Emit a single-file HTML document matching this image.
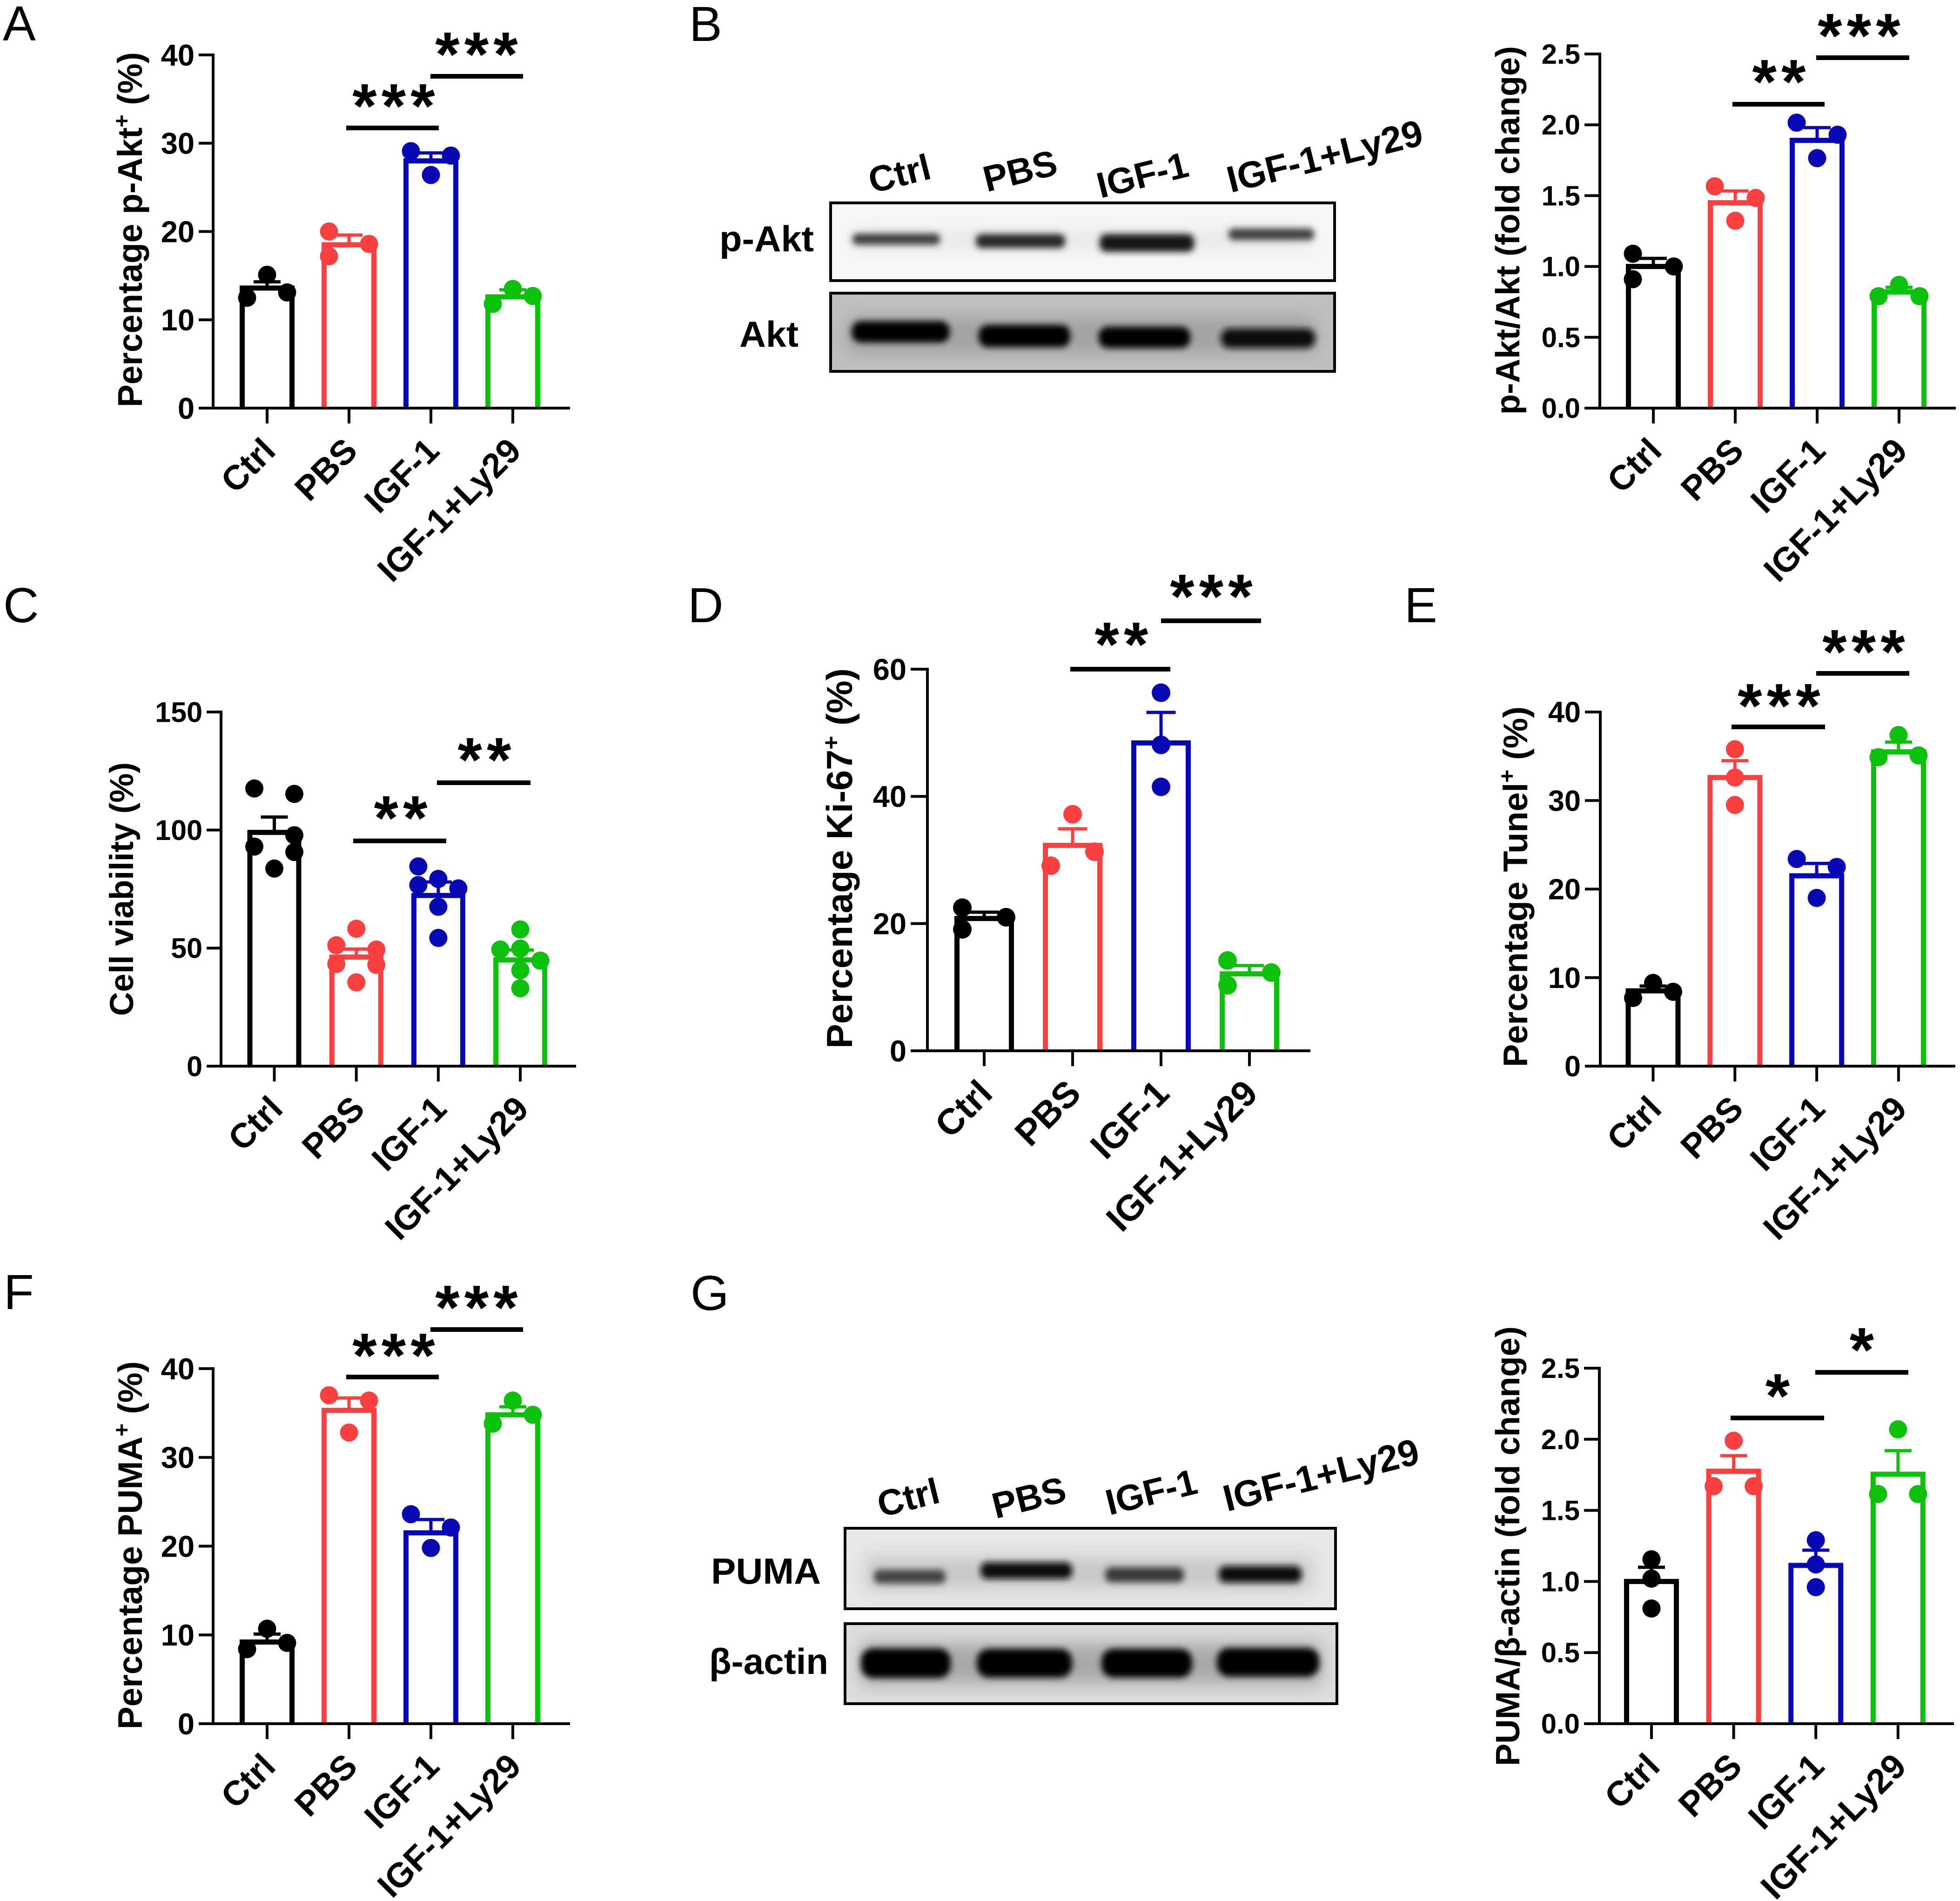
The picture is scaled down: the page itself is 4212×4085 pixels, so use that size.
<!DOCTYPE html>
<html lang="en">
<head>
<meta charset="utf-8">
<title>IGF-1 and p-Akt multi-panel figure</title>
<style>
html,body{margin:0;padding:0;background:#fff;}
svg{display:block;}
text{font-family:"Liberation Sans","DejaVu Sans",sans-serif;fill:#000;}
.letter{font-size:106px;font-weight:400;}
.title{font-size:73px;font-weight:700;}
.sig{font-size:135px;font-weight:700;text-anchor:middle;letter-spacing:10px;}
.blot-label{font-size:78px;font-weight:700;}
.lane{font-size:78px;font-weight:700;text-anchor:middle;}
.sigbar{stroke:#000;stroke-width:10;}
.box{fill:none;stroke:#000;stroke-width:6;}
</style>
</head>
<body>
<svg id="figure" xmlns="http://www.w3.org/2000/svg" width="4212" height="4085" viewBox="0 0 4212 4085">
<defs>
<filter id="blur-band" x="-30%" y="-150%" width="160%" height="400%"><feGaussianBlur stdDeviation="7"></feGaussianBlur></filter>
<filter id="blur-soft" x="-30%" y="-100%" width="160%" height="300%"><feGaussianBlur stdDeviation="20"></feGaussianBlur></filter>
<clipPath id="clip-b1"><rect x="1785" y="436" width="1083" height="167"></rect></clipPath>
<clipPath id="clip-b2"><rect x="1785" y="630" width="1083" height="168"></rect></clipPath>
<clipPath id="clip-g1"><rect x="1816" y="3284" width="1054" height="173"></rect></clipPath>
<clipPath id="clip-g2"><rect x="1816" y="3489" width="1057" height="172"></rect></clipPath>
</defs>
<rect width="4212" height="4085" fill="#fff"></rect>

<text class="letter" x="6" y="87">A</text>
<text class="letter" x="1481" y="88">B</text>
<text class="letter" x="7" y="1337">C</text>
<text class="letter" x="1478" y="1337">D</text>
<text class="letter" x="3018" y="1337">E</text>
<text class="letter" x="8" y="2813">F</text>
<text class="letter" x="1484" y="2815">G</text>

<!-- Axis titles -->
<text class="title" transform="translate(305 875) rotate(-90)" font-size="74" style="font-size:74px" textLength="763" lengthAdjust="spacingAndGlyphs">Percentage p-Akt<tspan font-size="48" style="font-size:48px" dy="-27">+</tspan><tspan dy="27" xml:space="preserve"> (%)</tspan></text>
<text class="title" transform="translate(3265 891) rotate(-90)" style="font-size:72px" textLength="792" lengthAdjust="spacingAndGlyphs">p-Akt/Akt (fold change)</text>
<text class="title" transform="translate(286 2183) rotate(-90)" style="font-size:71px" textLength="545" lengthAdjust="spacingAndGlyphs">Cell viability (%)</text>
<text class="title" transform="translate(1831 2253) rotate(-90)" style="font-size:78px" textLength="817" lengthAdjust="spacingAndGlyphs">Percentage Ki-67<tspan style="font-size:50px" dy="-28">+</tspan><tspan dy="28" xml:space="preserve"> (%)</tspan></text>
<text class="title" transform="translate(3282 2293) rotate(-90)" style="font-size:73px" textLength="775" lengthAdjust="spacingAndGlyphs">Percentage Tunel<tspan style="font-size:48px" dy="-27">+</tspan><tspan dy="27" xml:space="preserve"> (%)</tspan></text>
<text class="title" transform="translate(305 3716) rotate(-90)" style="font-size:73px" textLength="791" lengthAdjust="spacingAndGlyphs">Percentage PUMA<tspan style="font-size:48px" dy="-27">+</tspan><tspan dy="27" xml:space="preserve"> (%)</tspan></text>
<text class="title" transform="translate(3265 3795) rotate(-90)" style="font-size:72px" textLength="945" lengthAdjust="spacingAndGlyphs">PUMA/β-actin (fold change)</text>

<!-- Western blot B -->
<g>
  <text class="lane" transform="translate(1933 373) rotate(-14)" dy="27">Ctrl</text>
  <text class="lane" transform="translate(2192 367) rotate(-14)" dy="27">PBS</text>
  <text class="lane" transform="translate(2455 376) rotate(-14)" dy="27">IGF-1</text>
  <text class="lane" transform="translate(2847 336) rotate(-14)" dy="27" style="font-size:80px">IGF-1+Ly29</text>
  <text class="blot-label" x="1546" y="540" textLength="203" lengthAdjust="spacingAndGlyphs">p-Akt</text>
  <text class="blot-label" x="1589" y="745" textLength="127" lengthAdjust="spacingAndGlyphs">Akt</text>
  <g clip-path="url(#clip-b1)">
    <rect x="1785" y="436" width="1083" height="167" fill="#f8f8f8"></rect>
    <rect x="1830" y="490" width="990" height="50" fill="#e8e8e8" filter="url(#blur-soft)"></rect>
    <rect x="1832" y="502" width="188" height="24" rx="10" fill="#3c3c3c" filter="url(#blur-band)"></rect>
    <rect x="2097" y="503" width="192" height="30" rx="12" fill="#262626" filter="url(#blur-band)"></rect>
    <rect x="2363" y="503" width="203" height="38" rx="14" fill="#141414" filter="url(#blur-band)"></rect>
    <rect x="2640" y="491" width="184" height="25" rx="10" fill="#404040" filter="url(#blur-band)"></rect>
  </g>
  <rect class="box" x="1785" y="436" width="1083" height="167"></rect>
  <g clip-path="url(#clip-b2)">
    <rect x="1785" y="630" width="1083" height="168" fill="#c0c0c0"></rect>
    <rect x="1820" y="682" width="1010" height="76" fill="#a2a2a2" filter="url(#blur-soft)"></rect>
    <rect x="1830" y="690" width="211" height="46" rx="20" fill="#000" filter="url(#blur-band)"></rect>
    <rect x="2103" y="698" width="197" height="48" rx="20" fill="#000" filter="url(#blur-band)"></rect>
    <rect x="2361" y="702" width="197" height="46" rx="20" fill="#000" filter="url(#blur-band)"></rect>
    <rect x="2624" y="706" width="202" height="42" rx="18" fill="#080808" filter="url(#blur-band)"></rect>
  </g>
  <rect class="box" x="1785" y="630" width="1083" height="168"></rect>
</g>

<!-- Western blot G -->
<g>
  <text class="lane" transform="translate(1952 3218) rotate(-14)" dy="27">Ctrl</text>
  <text class="lane" transform="translate(2211 3218) rotate(-14)" dy="27">PBS</text>
  <text class="lane" transform="translate(2474 3206) rotate(-14)" dy="27">IGF-1</text>
  <text class="lane" transform="translate(2839 3170) rotate(-14)" dy="27" style="font-size:80px">IGF-1+Ly29</text>
  <text class="blot-label" x="1528" y="3403" textLength="236" lengthAdjust="spacingAndGlyphs">PUMA</text>
  <text class="blot-label" x="1524" y="3597" textLength="256" lengthAdjust="spacingAndGlyphs">β-actin</text>
  <g clip-path="url(#clip-g1)">
    <rect x="1816" y="3284" width="1054" height="173" fill="#e8e8e8"></rect>
    <rect x="1860" y="3345" width="960" height="70" fill="#c8c8c8" filter="url(#blur-soft)"></rect>
    <rect x="1878" y="3373" width="154" height="30" rx="12" fill="#444" filter="url(#blur-band)"></rect>
    <rect x="2107" y="3357" width="197" height="36" rx="14" fill="#0e0e0e" filter="url(#blur-band)"></rect>
    <rect x="2375" y="3368" width="169" height="32" rx="12" fill="#383838" filter="url(#blur-band)"></rect>
    <rect x="2619" y="3365" width="178" height="36" rx="14" fill="#0a0a0a" filter="url(#blur-band)"></rect>
  </g>
  <rect class="box" x="1816" y="3284" width="1054" height="173"></rect>
  <g clip-path="url(#clip-g2)">
    <rect x="1816" y="3489" width="1057" height="172" fill="#dedede"></rect>
    <rect x="1850" y="3530" width="990" height="90" fill="#a8a8a8" filter="url(#blur-soft)"></rect>
    <rect x="1850" y="3542" width="193" height="64" rx="26" fill="#000" filter="url(#blur-band)"></rect>
    <rect x="2099" y="3543" width="205" height="62" rx="26" fill="#000" filter="url(#blur-band)"></rect>
    <rect x="2367" y="3543" width="195" height="62" rx="26" fill="#000" filter="url(#blur-band)"></rect>
    <rect x="2615" y="3541" width="220" height="62" rx="26" fill="#000" filter="url(#blur-band)"></rect>
  </g>
  <rect class="box" x="1816" y="3489" width="1057" height="172"></rect>
</g>

<!-- Significance annotations -->
<g>
  <line class="sigbar" x1="744" x2="943" y1="275" y2="275"></line>
  <line class="sigbar" x1="925" x2="1124" y1="164" y2="164"></line>
  <text class="sig" x="851" y="274">***</text>
  <text class="sig" x="1029" y="163">***</text>

  <line class="sigbar" x1="3723" x2="3921" y1="224" y2="224"></line>
  <line class="sigbar" x1="3903" x2="4103" y1="124" y2="124"></line>
  <text class="sig" x="3828" y="222">**</text>
  <text class="sig" x="4000" y="123">***</text>

  <line class="sigbar" x1="759" x2="959" y1="1807" y2="1807"></line>
  <line class="sigbar" x1="939" x2="1140" y1="1682" y2="1682"></line>
  <text class="sig" x="866" y="1804">**</text>
  <text class="sig" x="1046" y="1679">**</text>

  <line class="sigbar" x1="2300" x2="2515" y1="1438" y2="1438"></line>
  <line class="sigbar" x1="2495" x2="2710" y1="1334" y2="1334"></line>
  <text class="sig" x="2415" y="1431">**</text>
  <text class="sig" x="2608" y="1328">***</text>

  <line class="sigbar" x1="3721" x2="3922" y1="1562" y2="1562"></line>
  <line class="sigbar" x1="3903" x2="4103" y1="1447" y2="1447"></line>
  <text class="sig" x="3828" y="1563">***</text>
  <text class="sig" x="4010" y="1447">***</text>

  <line class="sigbar" x1="744" x2="943" y1="2959" y2="2959"></line>
  <line class="sigbar" x1="925" x2="1124" y1="2857" y2="2857"></line>
  <text class="sig" x="851" y="2959">***</text>
  <text class="sig" x="1029" y="2856">***</text>

  <line class="sigbar" x1="3719" x2="3920" y1="3047" y2="3047"></line>
  <line class="sigbar" x1="3901" x2="4101" y1="2949" y2="2949"></line>
  <text class="sig" x="3825" y="3046">*</text>
  <text class="sig" x="4006" y="2947">*</text>
</g>
</svg>

<script>
// Shared categories
const categories = ['Ctrl', 'PBS', 'IGF-1', 'IGF-1+Ly29'];

// Panel A: percentage p-Akt+
const panelATicks = ['0', '10', '20', '30', '40'];
const panelAMeans = [13.6, 18.5, 28, 12.6];
const panelAErrorTops = [14.3, 19.6, 28.9, 13.4];
const panelAPoints = [[15.1, 12.5, 13.1], [20, 17.2, 18.6], [29.1, 26.4, 28.6], [13.5, 11.8, 12.7]];
const panelASlots = [[0, -1, 1], [-1, -1, 1], [-1, 0, 1], [0, -1, 1]];

// Panel B: p-Akt/Akt fold change
const panelBTicks = ['0.0', '0.5', '1.0', '1.5', '2.0', '2.5'];
const panelBMeans = [1.0, 1.45, 1.89, 0.82];
const panelBErrorTops = [1.057, 1.533, 1.98, 0.853];
const panelBPoints = [[1.09, 0.91, 1.0], [1.566, 1.323, 1.484], [2.015, 1.765, 1.93], [0.87, 0.79, 0.79]];
const panelBSlots = [[-1, -1, 1], [-1, 0, 1], [-1, 0, 1], [0, -1, 1]];

// Panel C: cell viability
const panelCTicks = ['0', '50', '100', '150'];
const panelCMeans = [99, 46.2, 72.3, 45];
const panelCErrorTops = [105.5, 49.6, 78, 49.2];
const panelCPoints = [[117.6, 93, 83.7, 115.3, 97.8, 90.7], [58.2, 51.2, 49.4, 43.3, 42.9, 35.5], [84.6, 79.3, 76.7, 75.3, 67.5, 54.3], [57.9, 49.4, 49.8, 44.7, 40.6, 33]];
const panelCSlots = [[-1, -1, 0, 1, 1, 1], [0, -1, 1, -1, 1, 0], [-1, 0, -1, 1, 0, 0], [0, -1, 0, 1, 0, 0]];

// Panel D: percentage Ki-67+
const panelDTicks = ['0', '20', '40', '60'];
const panelDMeans = [20.8, 32.3, 48.4, 12.1];
const panelDErrorTops = [21.8, 34.9, 53.2, 13.4];
const panelDPoints = [[22.5, 19.1, 21], [37.2, 29.1, 31.3], [56.3, 48.1, 41.5], [14.2, 10.3, 12.3]];
const panelDSlots = [[-1, -1, 1], [0, -1, 1], [0, 0, 0], [-1, -1, 1]];

// Panel E: percentage Tunel+
const panelETicks = ['0', '10', '20', '30', '40'];
const panelEMeans = [8.5, 32.6, 21.5, 35.5];
const panelEErrorTops = [9.05, 34.5, 22.9, 36.6];
const panelEPoints = [[9.4, 7.7, 8.4], [35.8, 32.6, 29.5], [23.4, 19, 22.5], [37.4, 34.9, 35.1]];
const panelESlots = [[0, -1, 1], [0, 0, 0], [-1, 0, 1], [0, -1, 1]];

// Panel F: percentage PUMA+
const panelFTicks = ['0', '10', '20', '30', '40'];
const panelFMeans = [9.2, 35.3, 21.5, 34.8];
const panelFErrorTops = [10.1, 36.7, 23, 35.7];
const panelFPoints = [[10.7, 8.4, 9.1], [37, 32.8, 36.4], [23.6, 19.8, 22.1], [36.4, 33.8, 34.8]];
const panelFSlots = [[0, -1, 1], [-1, 0, 1], [-1, 0, 1], [0, -1, 1]];

// Panel G: PUMA/beta-actin fold change
const panelGTicks = ['0.0', '0.5', '1.0', '1.5', '2.0', '2.5'];
const panelGMeans = [1.0, 1.775, 1.113, 1.754];
const panelGErrorTops = [1.1, 1.885, 1.22, 1.92];
const panelGPoints = [[1.156, 1.02, 0.81], [1.99, 1.67, 1.67], [1.29, 1.12, 0.96], [2.07, 1.615, 1.615]];
const panelGSlots = [[0, 0, 0], [0, -1, 1], [0, 0, 0], [0, -1, 1]];

const seriesColors = ['#000000', '#fa4141', '#0808b4', '#0cc00c'];

const SVG_NS = 'http://www.w3.org/2000/svg';
const figure = document.getElementById('figure');

function make(parent, tag, attrs) {
  const node = document.createElementNS(SVG_NS, tag);
  for (const key in attrs) node.setAttribute(key, attrs[key]);
  parent.appendChild(node);
  return node;
}

function drawPanel(id, layout, ticks, means, errorTops, points, slots) {
  const yMax = parseFloat(ticks[ticks.length - 1]);
  const yScale = function (v) { return layout.zeroY - (v / yMax) * (layout.zeroY - layout.topY); };
  const xScale = function (i) { return layout.firstX + i * layout.stepX; };

  const group = make(figure, 'g', {});
  
  

  categories.forEach(function (cat, i) {
    const slug = cat.toLowerCase().replace(/\+/g, '-');
    const cx = xScale(i);
    const color = seriesColors[i];
    const left = cx - layout.barWidth / 2;
    const right = cx + layout.barWidth / 2;

    const bar = make(group, 'path', {
      d: 'M' + left + ' ' + layout.zeroY + 'V' + yScale(means[i]) + 'H' + right + 'V' + layout.zeroY,
      fill: 'none',
      stroke: color,
      'stroke-width': 11
    });
    
    

    const stem = make(group, 'line', {
      x1: cx, x2: cx, y1: yScale(means[i]), y2: yScale(errorTops[i]),
      stroke: color, 'stroke-width': 7
    });
    
    

    const cap = make(group, 'line', {
      x1: cx - layout.capWidth / 2, x2: cx + layout.capWidth / 2,
      y1: yScale(errorTops[i]), y2: yScale(errorTops[i]),
      stroke: color, 'stroke-width': 7
    });
    
    

    points[i].forEach(function (v, j) {
      const dot = make(group, 'circle', {
        cx: cx + slots[i][j] * layout.jitter,
        cy: yScale(v),
        r: layout.dotR,
        fill: color
      });
      
      
    });

    const xTick = make(group, 'line', {
      x1: cx, x2: cx, y1: layout.zeroY, y2: layout.zeroY + 33,
      stroke: '#000', 'stroke-width': 6
    });
    
    

    const xLabel = make(group, 'text', {
      transform: 'translate(' + (cx + 22) + ' ' + (layout.zeroY + 96) + ') rotate(-45)',
      'text-anchor': 'end',
      'font-size': layout.xFont,
      'font-weight': 700
    });
    xLabel.textContent = cat;
    
    
  });

  const yAxis = make(group, 'line', {
    x1: layout.axisX, x2: layout.axisX, y1: layout.topY - 3, y2: layout.zeroY + 3,
    stroke: '#000', 'stroke-width': 6
  });
  
  

  const xAxis = make(group, 'line', {
    x1: layout.axisX - layout.tickLen, x2: layout.axisRight, y1: layout.zeroY, y2: layout.zeroY,
    stroke: '#000', 'stroke-width': 6
  });
  
  

  ticks.forEach(function (label) {
    const y = yScale(parseFloat(label));
    const yTick = make(group, 'line', {
      x1: layout.axisX - layout.tickLen, x2: layout.axisX, y1: y, y2: y,
      stroke: '#000', 'stroke-width': 6
    });
    
    

    const yLabel = make(group, 'text', {
      x: layout.axisX - layout.tickLen - 9,
      y: y + layout.tickFont * 0.35,
      'text-anchor': 'end',
      'font-size': layout.tickFont,
      'font-weight': 700
    });
    yLabel.textContent = label;
    
    
  });
}

drawPanel('a', {axisX: 458, axisRight: 1225, topY: 118, zeroY: 877, firstX: 574, stepX: 176, barWidth: 107, capWidth: 58, jitter: 43, dotR: 19.5, tickLen: 31, tickFont: 65, xFont: 74},
  panelATicks, panelAMeans, panelAErrorTops, panelAPoints, panelASlots);
drawPanel('b', {axisX: 3438, axisRight: 4203, topY: 116, zeroY: 877, firstX: 3553, stepX: 176, barWidth: 107, capWidth: 58, jitter: 44, dotR: 19.5, tickLen: 33, tickFont: 60, xFont: 74},
  panelBTicks, panelBMeans, panelBErrorTops, panelBPoints, panelBSlots);
drawPanel('c', {axisX: 475, axisRight: 1238, topY: 1530, zeroY: 2291, firstX: 589.5, stepX: 176.2, barWidth: 105, capWidth: 58, jitter: 43, dotR: 19.5, tickLen: 31, tickFont: 61, xFont: 74},
  panelCTicks, panelCMeans, panelCErrorTops, panelCPoints, panelCSlots);
drawPanel('d', {axisX: 1993, axisRight: 2816, topY: 1438, zeroY: 2258, firstX: 2115, stepX: 190, barWidth: 117, capWidth: 63, jitter: 47, dotR: 20, tickLen: 36, tickFont: 65, xFont: 78},
  panelDTicks, panelDMeans, panelDErrorTops, panelDPoints, panelDSlots);
drawPanel('e', {axisX: 3439, axisRight: 4202, topY: 1530, zeroY: 2291, firstX: 3552.5, stepX: 175.8, barWidth: 107, capWidth: 58, jitter: 43, dotR: 19.5, tickLen: 33, tickFont: 63, xFont: 74},
  panelETicks, panelEMeans, panelEErrorTops, panelEPoints, panelESlots);
drawPanel('f', {axisX: 458, axisRight: 1225, topY: 2941, zeroY: 3704, firstX: 574, stepX: 176, barWidth: 107, capWidth: 58, jitter: 43, dotR: 19.5, tickLen: 31, tickFont: 65, xFont: 74},
  panelFTicks, panelFMeans, panelFErrorTops, panelFPoints, panelFSlots);
drawPanel('g', {axisX: 3437, axisRight: 4199, topY: 2940, zeroY: 3704, firstX: 3549, stepX: 176.6, barWidth: 107, capWidth: 58, jitter: 43, dotR: 19.5, tickLen: 33, tickFont: 60, xFont: 75},
  panelGTicks, panelGMeans, panelGErrorTops, panelGPoints, panelGSlots);
</script>
</body>
</html>
